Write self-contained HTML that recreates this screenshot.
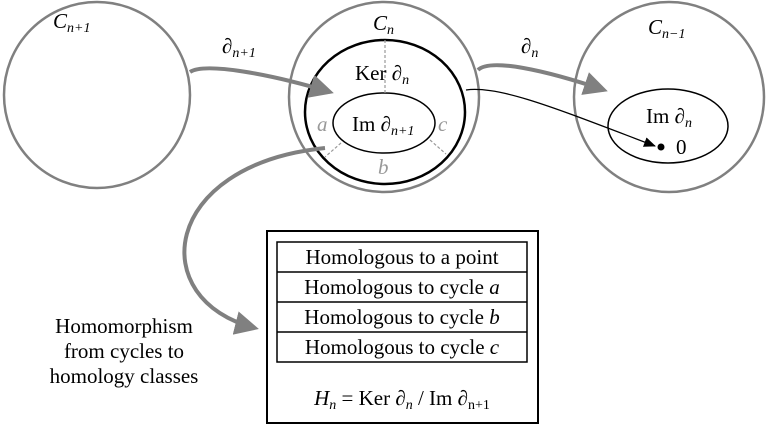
<!DOCTYPE html>
<html><head><meta charset="utf-8"><style>
body{margin:0;background:#fff}
text{font-family:"Liberation Serif",serif;}
</style></head><body>
<svg width="767" height="428" viewBox="0 0 767 428" xmlns="http://www.w3.org/2000/svg">
<defs>
<marker id="ga" markerWidth="6" markerHeight="6" refX="5" refY="3" orient="auto" markerUnits="strokeWidth"><path d="M0,0 L6,3 L0,6 z" fill="#808080"/></marker>
<marker id="ba" markerWidth="12" markerHeight="10" refX="11" refY="5" orient="auto" markerUnits="userSpaceOnUse"><path d="M0,0 L12,5 L0,10 z" fill="#000"/></marker>
</defs>
<g fill="none" stroke="#808080" stroke-width="2.5">
<circle cx="97" cy="95" r="93"/>
<circle cx="384" cy="97" r="95"/>
<circle cx="669" cy="97" r="95"/>
</g>
<ellipse cx="385" cy="112" rx="80" ry="72" fill="none" stroke="#000" stroke-width="2.5"/>
<ellipse cx="384" cy="123" rx="51" ry="30" fill="#fff" stroke="#000" stroke-width="1.5"/>
<ellipse cx="668" cy="126" rx="60" ry="37" fill="none" stroke="#000" stroke-width="1.5"/>
<g stroke="#999" stroke-width="1.2" stroke-dasharray="3,2">
<line x1="385" y1="40" x2="385" y2="93"/>
<line x1="341" y1="143" x2="325" y2="157"/>
<line x1="430" y1="140" x2="446" y2="154"/>
</g>
<g fill="none" stroke="#808080" stroke-width="4">
<path d="M190,72 C205,62 270,74 330,92" marker-end="url(#ga)"/>
<path d="M478,70 C490,58 545,70 604,90" marker-end="url(#ga)"/>
<path d="M325,148 C160,165 145,300 255,328" marker-end="url(#ga)"/>
</g>
<path d="M466,90 C500,85 560,110 655,146" fill="none" stroke="#000" stroke-width="1.3" marker-end="url(#ba)"/>
<circle cx="661" cy="147" r="3.5" fill="#000"/>
<g font-size="21">
<text x="53" y="28" font-style="italic">C<tspan font-size="14" dy="4">n+1</tspan></text>
<text x="373" y="30" font-style="italic">C<tspan font-size="14" dy="4">n</tspan></text>
<text x="648" y="34" font-style="italic">C<tspan font-size="14" dy="4">n−1</tspan></text>
<text x="222" y="53">∂<tspan font-size="14" dy="4" font-style="italic">n+1</tspan></text>
<text x="521" y="53">∂<tspan font-size="14" dy="4" font-style="italic">n</tspan></text>
<text x="355" y="80">Ker ∂<tspan font-size="14" dy="4" font-style="italic">n</tspan></text>
<text x="352" y="131">Im ∂<tspan font-size="14" dy="4" font-style="italic">n+1</tspan></text>
<text x="646" y="123">Im ∂<tspan font-size="14" dy="4" font-style="italic">n</tspan></text>
<text x="676" y="154">0</text>
<text x="317" y="131" fill="#999" font-style="italic">a</text>
<text x="438" y="131" fill="#999" font-style="italic">c</text>
<text x="378" y="174" fill="#999" font-style="italic">b</text>
</g>
<rect x="267" y="231" width="271" height="192" fill="none" stroke="#000" stroke-width="2"/>
<rect x="277" y="242" width="250" height="120" fill="none" stroke="#000" stroke-width="1.5"/>
<g stroke="#000" stroke-width="1.5"><line x1="277" y1="272" x2="527" y2="272"/><line x1="277" y1="302" x2="527" y2="302"/><line x1="277" y1="332" x2="527" y2="332"/></g>
<g font-size="21" text-anchor="middle">
<text x="402" y="264">Homologous to a point</text>
<text x="402" y="294">Homologous to cycle <tspan font-style="italic">a</tspan></text>
<text x="402" y="324">Homologous to cycle <tspan font-style="italic">b</tspan></text>
<text x="402" y="354">Homologous to cycle <tspan font-style="italic">c</tspan></text>
<text x="402" y="405"><tspan font-style="italic">H</tspan><tspan font-size="14" dy="4" font-style="italic">n</tspan><tspan dy="-4"> = Ker ∂</tspan><tspan font-size="14" dy="4" font-style="italic">n</tspan><tspan dy="-4"> / Im ∂</tspan><tspan font-size="14" dy="4">n+1</tspan></text>
<text x="124" y="333">Homomorphism</text>
<text x="124" y="358">from cycles to</text>
<text x="124" y="383">homology classes</text>
</g>
</svg>
</body></html>
